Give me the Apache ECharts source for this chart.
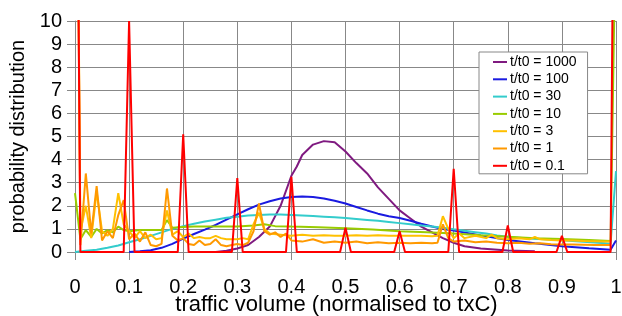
<!DOCTYPE html>
<html>
<head>
<meta charset="utf-8">
<script src="https://cdn.jsdelivr.net/npm/echarts@6/dist/echarts.min.js"></script>
<style>
  html, body { margin: 0; padding: 0; background: #fff; }
  #chart { width: 622px; height: 316px; }
</style>
</head>
<body>
<div id="chart"></div>
<script>
const FONT = "'Liberation Sans', Arial, sans-serif"

// x ticks / y ticks
const xTicks = [0, 0.1, 0.2, 0.3, 0.4, 0.5, 0.6, 0.7, 0.8, 0.9, 1]
const yTicks = [0, 1, 2, 3, 4, 5, 6, 7, 8, 9, 10]

// t/t0 = 1000
const x1000 = [0.26, 0.28, 0.30, 0.32, 0.34, 0.36, 0.38, 0.40, 0.41, 0.42, 0.44, 0.46, 0.48, 0.50, 0.52, 0.54, 0.56, 0.58, 0.60, 0.62, 0.64, 0.66, 0.68, 0.70, 0.72, 0.75, 0.80, 0.85]
const y1000 = [0, 0.05, 0.15, 0.3, 0.65, 1.1, 2.0, 3.3, 3.7, 4.2, 4.65, 4.8, 4.75, 4.35, 3.85, 3.4, 2.8, 2.3, 1.8, 1.45, 1.1, 0.85, 0.6, 0.4, 0.25, 0.15, 0.07, 0.03]

// t/t0 = 100
const x100 = [0.10, 0.12, 0.14, 0.16, 0.18, 0.20, 0.22, 0.24, 0.26, 0.28, 0.30, 0.32, 0.34, 0.36, 0.38, 0.40, 0.42, 0.44, 0.46, 0.48, 0.50, 0.52, 0.54, 0.56, 0.58, 0.60, 0.62, 0.64, 0.66, 0.68, 0.70, 0.75, 0.80, 0.85, 0.90, 0.95, 0.99, 1.0]
const y100 = [0, 0.03, 0.08, 0.18, 0.35, 0.58, 0.78, 0.97, 1.17, 1.4, 1.63, 1.85, 2.05, 2.2, 2.32, 2.38, 2.4, 2.38, 2.32, 2.22, 2.1, 1.95, 1.8, 1.66, 1.55, 1.47, 1.35, 1.22, 1.1, 1.0, 0.93, 0.72, 0.52, 0.38, 0.25, 0.16, 0.1, 0.5]

// t/t0 = 30
const x30 = [0, 0.02, 0.04, 0.06, 0.08, 0.10, 0.12, 0.14, 0.16, 0.18, 0.20, 0.22, 0.24, 0.26, 0.28, 0.30, 0.32, 0.34, 0.36, 0.38, 0.40, 0.42, 0.44, 0.46, 0.48, 0.50, 0.52, 0.54, 0.56, 0.58, 0.60, 0.62, 0.64, 0.66, 0.68, 0.70, 0.72, 0.74, 0.76, 0.78, 0.80, 0.82, 0.84, 0.86, 0.88, 0.90, 0.92, 0.94, 0.96, 0.98, 0.99, 1.0]
const y30 = [0, 0.05, 0.1, 0.18, 0.28, 0.42, 0.55, 0.7, 0.85, 1.0, 1.12, 1.22, 1.32, 1.4, 1.48, 1.53, 1.58, 1.6, 1.62, 1.62, 1.6, 1.58, 1.56, 1.53, 1.5, 1.47, 1.43, 1.39, 1.35, 1.3, 1.25, 1.2, 1.15, 1.1, 1.05, 0.98, 0.92, 0.86, 0.8, 0.72, 0.66, 0.62, 0.58, 0.56, 0.53, 0.51, 0.48, 0.44, 0.41, 0.38, 0.36, 3.5]

// t/t0 = 10
const x10 = [0, 0.01, 0.02, 0.03, 0.04, 0.05, 0.06, 0.07, 0.08, 0.09, 0.10, 0.12, 0.14, 0.16, 0.17, 0.18, 0.20, 0.22, 0.25, 0.30, 0.33, 0.35, 0.37, 0.40, 0.45, 0.50, 0.55, 0.60, 0.65, 0.70, 0.75, 0.80, 0.85, 0.90, 0.95, 0.99, 1.0]
const y10 = [2.55, 0.55, 0.95, 0.65, 1.0, 0.8, 0.95, 0.85, 1.1, 0.95, 0.9, 0.95, 0.95, 0.95, 1.38, 1.05, 1.08, 1.1, 1.1, 1.1, 1.15, 1.2, 1.12, 1.1, 1.07, 1.03, 0.97, 0.9, 0.85, 0.8, 0.72, 0.66, 0.6, 0.56, 0.52, 0.48, 15]

// t/t0 = 3
const x3 = [0, 0.01, 0.02, 0.03, 0.04, 0.05, 0.06, 0.07, 0.08, 0.09, 0.10, 0.11, 0.12, 0.13, 0.14, 0.15, 0.16, 0.17, 0.18, 0.19, 0.20, 0.21, 0.22, 0.23, 0.24, 0.25, 0.26, 0.27, 0.28, 0.29, 0.30, 0.31, 0.32, 0.33, 0.34, 0.35, 0.36, 0.38, 0.40, 0.42, 0.44, 0.46, 0.48, 0.50, 0.52, 0.54, 0.56, 0.58, 0.60, 0.62, 0.64, 0.66, 0.67, 0.68, 0.69, 0.70, 0.71, 0.72, 0.74, 0.76, 0.77, 0.78, 0.80, 0.82, 0.84, 0.85, 0.86, 0.88, 0.90, 0.92, 0.94, 0.96, 0.98, 0.99]
const y3 = [30, 0.9, 2.0, 0.6, 2.6, 0.9, 0.7, 1.0, 2.55, 1.2, 0.9, 0.6, 0.9, 0.6, 0.75, 0.55, 0.6, 1.8, 0.75, 0.9, 0.65, 0.8, 0.6, 0.65, 0.6, 0.6, 0.7, 0.6, 0.55, 0.55, 0.55, 0.6, 0.55, 1.2, 1.7, 1.0, 0.8, 0.75, 0.7, 0.75, 0.7, 0.72, 0.7, 0.7, 0.72, 0.7, 0.72, 0.7, 0.7, 0.7, 0.7, 0.68, 0.7, 1.55, 1.0, 0.6, 0.8, 0.6, 0.7, 0.6, 0.75, 0.6, 0.55, 0.6, 0.55, 0.65, 0.55, 0.52, 0.5, 0.5, 0.48, 0.47, 0.45, 0.45]

// t/t0 = 1
const x1 = [0, 0.01, 0.02, 0.03, 0.04, 0.05, 0.06, 0.07, 0.08, 0.09, 0.10, 0.11, 0.12, 0.13, 0.14, 0.15, 0.16, 0.17, 0.18, 0.19, 0.20, 0.21, 0.22, 0.23, 0.24, 0.25, 0.26, 0.27, 0.28, 0.29, 0.30, 0.31, 0.32, 0.33, 0.34, 0.35, 0.36, 0.37, 0.38, 0.39, 0.40, 0.42, 0.44, 0.46, 0.48, 0.50, 0.52, 0.54, 0.56, 0.58, 0.60, 0.62, 0.64, 0.66, 0.67, 0.68, 0.69, 0.70, 0.72, 0.74, 0.76, 0.78, 0.80, 0.82, 0.84, 0.86, 0.88, 0.90, 0.92, 0.94, 0.96, 0.98, 0.99]
const y1 = [30, 0.3, 3.4, 0.8, 2.85, 0.5, 0.9, 0.6, 1.6, 2.25, 0.55, 0.8, 0.45, 0.85, 0.3, 0.25, 0.35, 2.75, 0.7, 0.5, 0.6, 0.35, 0.3, 0.5, 0.3, 0.35, 0.55, 0.3, 0.25, 0.3, 0.35, 0.3, 0.4, 0.9, 2.1, 0.9, 0.75, 0.85, 0.65, 0.8, 0.5, 0.45, 0.55, 0.4, 0.45, 0.4, 0.45, 0.38, 0.42, 0.38, 0.4, 0.38, 0.4, 0.38, 0.4, 1.2, 0.6, 0.45, 0.5, 0.42, 0.45, 0.4, 0.38, 0.4, 0.36, 0.38, 0.34, 0.33, 0.32, 0.31, 0.3, 0.3, 0.3]

// t/t0 = 0.1
const x01 = [0, 0.01, 0.09, 0.1, 0.11, 0.19, 0.2, 0.21, 0.29, 0.3, 0.31, 0.39, 0.4, 0.41, 0.49, 0.5, 0.51, 0.59, 0.6, 0.61, 0.69, 0.7, 0.71, 0.79, 0.8, 0.81, 0.89, 0.9, 0.91, 0.99, 1.0]
const y01 = [30, 0, 0, 10, 0, 0, 5.1, 0, 0, 3.2, 0, 0, 3.25, 0, 0, 1.05, 0, 0, 0.9, 0, 0, 3.6, 0, 0, 1.15, 0, 0, 0.7, 0, 0, 30]

const names = ['t/t0 = 1000', 't/t0 = 100', 't/t0 = 30', 't/t0 = 10', 't/t0 = 3', 't/t0 = 1', 't/t0 = 0.1']
const colors = ['#7f1a80', '#1a1ae0', '#33cccc', '#99cc00', '#ffc000', '#ff9900', '#ff0000']
const xs = [x1000, x100, x30, x10, x3, x1, x01]
const ys = [y1000, y100, y30, y10, y3, y1, y01]

const chart = echarts.init(document.getElementById('chart'))

chart.setOption({
  backgroundColor: '#fff',
  animation: false,
  grid: { left: 75, right: 6, top: 21, bottom: 64, outerBoundsMode: 'none', containLabel: false },
  legend: {
    orient: 'vertical',
    left: 479,
    top: 52,
    width: 109,
    padding: [3, 11, 1, 14],
    icon: 'rect',
    itemWidth: 14,
    itemHeight: 2,
    itemGap: 3.3,
    backgroundColor: '#fff',
    borderColor: '#888',
    borderWidth: 1,
    textStyle: { fontFamily: FONT, fontSize: 14, color: '#000', lineHeight: 14, padding: [0, 0, 0, -2] },
    data: names
  },
  xAxis: {
    type: 'value',
    min: 0,
    max: 1,
    interval: 0.1,
    name: 'traffic volume (normalised to txC)',
    nameLocation: 'middle',
    nameGap: 42,
    nameMoveOverlap: false,
    nameTextStyle: { fontFamily: FONT, fontSize: 22, color: '#000', padding: [0, 18, 0, 0] },
    axisLine: { show: true, lineStyle: { color: '#888', width: 1 } },
    axisTick: { show: true, length: 8, lineStyle: { color: '#888' } },
    splitLine: { show: true, lineStyle: { color: '#888', width: 1 } },
    axisLabel: {
      fontFamily: FONT, fontSize: 20, color: '#000', margin: 25,
      formatter: v => xTicks.indexOf(Math.round(v * 10) / 10) >= 0 ? String(Math.round(v * 10) / 10) : ''
    }
  },
  yAxis: {
    type: 'value',
    min: 0,
    max: 10,
    interval: 1,
    name: 'probability distribution',
    nameLocation: 'middle',
    nameGap: 47,
    nameMoveOverlap: false,
    nameTextStyle: { fontFamily: FONT, fontSize: 20, color: '#000' },
    axisLine: { show: true, lineStyle: { color: '#888', width: 1 } },
    axisTick: { show: true, length: 8, lineStyle: { color: '#888' } },
    splitLine: { show: true, lineStyle: { color: '#888', width: 1 } },
    axisLabel: {
      fontFamily: FONT, fontSize: 20, color: '#000', margin: 13,
      formatter: v => yTicks.indexOf(v) >= 0 ? String(v) : ''
    }
  },
  series: names.map((n, i) => ({
    name: n,
    type: 'line',
    symbol: 'none',
    clip: true,
    color: colors[i],
    lineStyle: { color: colors[i], width: 2 },
    data: xs[i].map((x, j) => [x, ys[i][j]])
  }))
})
</script>
</body>
</html>
